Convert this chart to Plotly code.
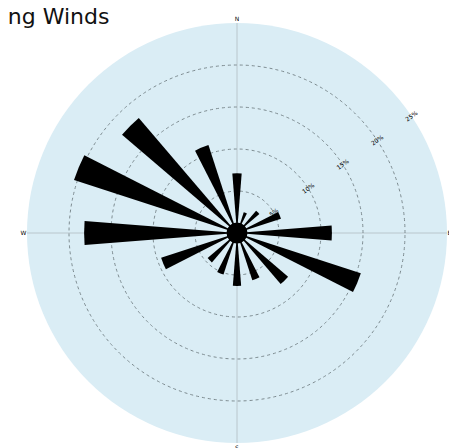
import plotly.graph_objects as go

# ---- data ----
directions = ["N", "NNE", "NE", "ENE", "E", "ESE", "SE", "SSE",
              "S", "SSW", "SW", "WSW", "W", "WNW", "NW", "NNW"]
angles = [0, 22.5, 45, 67.5, 90, 112.5, 135, 157.5,
          180, 202.5, 225, 247.5, 270, 292.5, 315, 337.5]
frequency = [7.1, 2.6, 3.5, 5.5, 11.3, 15.5, 8.0, 5.9,
             6.3, 5.2, 4.6, 9.5, 18.2, 20.4, 18.0, 11.0]
calm = 1.25
radial_ticks = [5, 10, 15, 20, 25]
radial_ticktext = ["5%", "10%", "15%", "20%", "25%"]
compass_vals = [0, 90, 180, 270]
compass_text = ["N", "E", "S", "W"]
title_text = "Prevailing Winds"

W, H = 457, 448
OFF = 8  # page body offset

fig = go.Figure()
fig.add_trace(go.Barpolar(
    r=frequency, theta=angles, width=9,
    marker=dict(color="black", line=dict(width=0)),
    hoverinfo="skip",
))
fig.add_trace(go.Barpolar(
    r=[calm], theta=[0], width=360,
    marker=dict(color="black", line=dict(width=0)),
    hoverinfo="skip",
))

cx, cy, rad = 237 - OFF, 233 - OFF, 210
fig.update_layout(
    width=W, height=H,
    margin=dict(l=0, r=0, t=0, b=0),
    paper_bgcolor="white",
    showlegend=False,
    polar=dict(
        domain=dict(x=[(cx - rad) / W, (cx + rad) / W],
                    y=[(H - cy - rad) / H, (H - cy + rad) / H]),
        bgcolor="#daedf5",
        barmode="overlay",
        radialaxis=dict(
            range=[0, 25],
            tickvals=radial_ticks,
            ticktext=radial_ticktext,
            angle=35,
            showline=False,
            ticks="",
            showgrid=True,
            gridcolor="#7d8b90",
            griddash="3px,3px",
            gridwidth=1,
            tickfont=dict(size=6, color="black", family="DejaVu Sans"),
        ),
        angularaxis=dict(
            rotation=90,
            direction="clockwise",
            tickvals=compass_vals,
            ticktext=compass_text,
            showline=False,
            ticks="",
            showgrid=True,
            gridcolor="#b9c6cc",
            gridwidth=1,
            tickfont=dict(size=6, color="black", family="DejaVu Sans"),
        ),
    ),
    annotations=[dict(
        text=title_text, xref="paper", yref="paper",
        x=(111 - OFF) / W, y=1 - (16 - OFF) / H, xanchor="right", yanchor="middle",
        showarrow=False,
        font=dict(size=22, color="#111111", family="DejaVu Sans"),
    )],
)

fig.write_html("out.html")
